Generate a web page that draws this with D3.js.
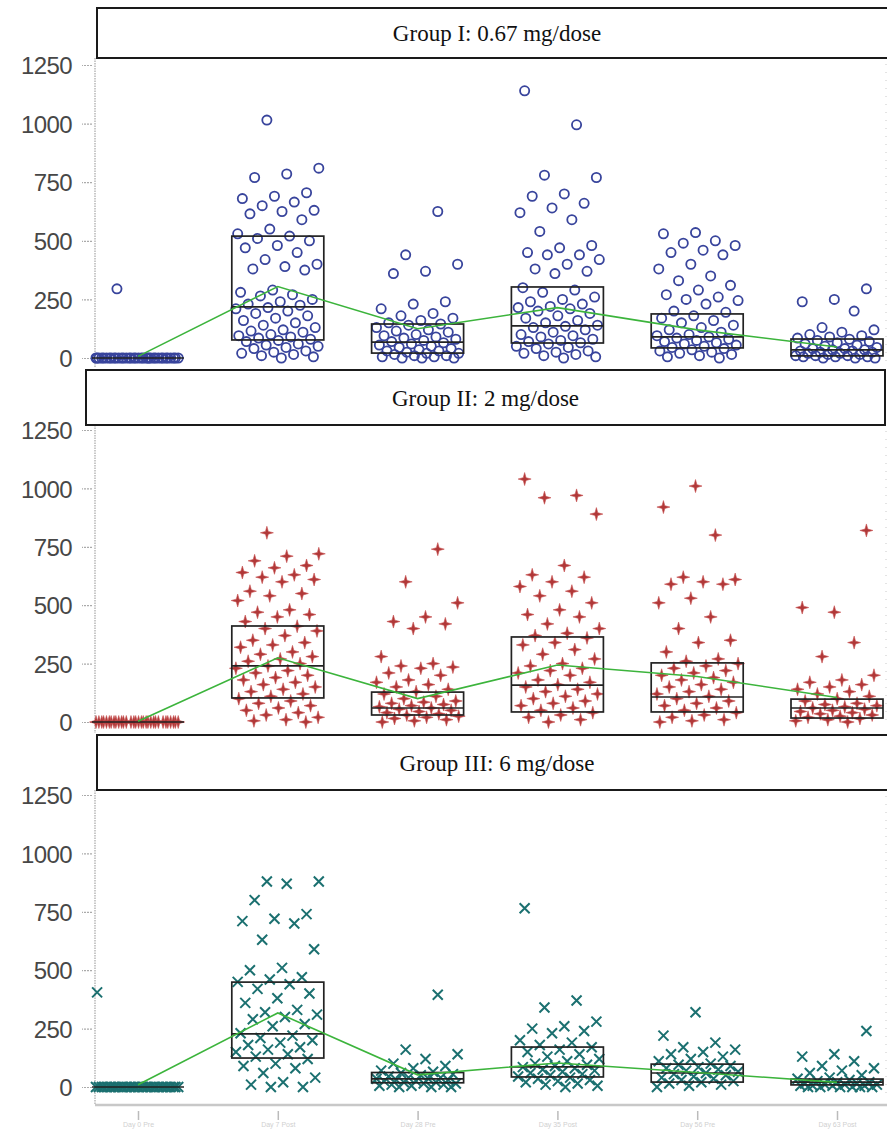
<!DOCTYPE html>
<html><head><meta charset="utf-8">
<script src="https://cdn.jsdelivr.net/npm/d3@7"></script>
<style>body{margin:0;background:#fff;overflow:hidden}svg{display:block}</style>
</head><body><svg id="c" width="887" height="1130"></svg>
<script>
const categories = ["Day 0 Pre", "Day 7 Post", "Day 28 Pre", "Day 35 Post", "Day 56 Pre", "Day 63 Post"];
const groupTitles = ["Group I: 0.67 mg/dose", "Group II: 2 mg/dose", "Group III: 6 mg/dose"];
const tickValues = [0, 250, 500, 750, 1000, 1250];

// Group I raw values per category
const g1Values = [
  [0,0,0,0,0,0,0,0,0,0,0,0,0,0,0,0,0,0,0,0,0,0,0,0,0,0,0,0,0,0,0,0,0,0,0,0,295],
  [1015,810,785,770,705,690,680,665,650,630,625,615,590,550,530,520,510,500,480,470,450,420,400,390,380,375,290,280,270,265,250,240,230,225,215,210,200,190,180,170,160,150,140,130,120,115,110,100,95,90,85,80,75,70,60,55,50,45,40,30,25,20,15,10,5,0],
  [625,440,400,370,360,240,230,210,190,180,170,160,150,145,140,130,120,115,110,100,95,90,85,80,75,70,65,60,55,50,45,40,35,30,30,25,20,20,15,10,10,5,5,0,0,0],
  [1140,995,780,770,700,690,660,640,620,590,540,480,470,450,440,440,420,400,380,370,360,300,290,280,260,250,240,230,220,215,210,200,190,180,170,160,150,140,135,130,120,110,100,95,90,80,75,70,65,60,50,45,40,30,25,20,15,10,5,0],
  [535,530,500,490,480,460,450,440,400,380,350,330,310,290,270,260,250,245,230,200,195,180,170,160,150,140,130,120,110,100,95,90,85,80,75,70,65,60,55,50,45,40,35,30,25,20,15,10,5,0],
  [295,250,240,200,130,120,110,100,95,90,85,80,75,70,65,60,55,50,45,40,40,35,35,30,30,25,25,20,20,15,15,10,10,10,5,5,5,0,0,0]
];
const g2Values = [
  [0,0,0,0,0,0,0,0,0,0,0,0,0,0,0,0,0,0,0,0,0,0,0,0,0,0,0,0,0,0,0,0],
  [810,720,710,690,670,660,640,630,620,610,600,560,550,540,520,480,470,460,450,430,410,400,390,370,350,340,330,320,300,290,280,270,260,250,240,230,220,210,200,190,180,170,160,150,140,130,120,110,100,90,80,70,60,50,40,30,20,10,5,0],
  [740,600,510,450,430,420,400,280,250,240,235,230,210,200,180,170,160,150,140,130,120,110,100,90,85,80,75,70,65,60,55,50,45,40,35,30,25,20,15,10,5,0],
  [1040,970,960,890,670,630,620,600,580,560,540,510,480,460,450,420,400,380,370,360,340,330,310,290,270,250,240,230,220,210,200,180,170,160,150,140,130,120,110,100,90,80,70,60,50,40,30,20,10,0],
  [1010,920,800,620,610,600,590,590,530,510,450,400,350,340,300,270,260,250,240,230,220,210,200,190,180,170,160,150,140,130,120,110,100,90,80,70,60,50,40,30,20,10,5,0],
  [820,470,490,340,280,200,180,170,160,150,140,130,120,110,100,90,80,75,70,65,60,55,50,45,40,35,30,25,20,15,10,5,0]
];
const g3Values = [
  [0,0,0,0,0,0,0,0,0,0,0,0,0,0,0,0,0,0,0,0,0,0,0,0,0,0,0,0,0,0,0,0,0,0,405],
  [880,880,870,800,740,720,710,700,630,590,510,500,470,460,450,440,420,400,380,360,330,320,310,300,290,270,260,230,220,210,200,190,180,170,160,150,140,130,120,100,90,80,60,40,20,10,0,0],
  [395,160,140,120,100,90,80,70,65,60,55,50,45,40,40,35,35,30,30,25,25,20,20,15,15,10,10,5,5,0,0,0],
  [765,370,340,280,260,250,240,230,200,190,180,170,160,150,140,130,120,110,100,95,90,85,80,75,70,65,60,55,50,45,40,35,30,25,20,15,10,5,0],
  [320,220,190,170,160,150,140,130,120,110,100,95,90,85,80,75,70,65,60,55,50,45,40,35,30,25,20,15,10,5,0],
  [240,140,130,110,90,80,70,60,50,40,35,30,25,20,20,15,15,10,10,10,5,5,5,5,0,0,0,0,0,0]
];

// box stats [q1, median, q3]
const g1Box = [[0,0,0],[77,218,520],[21,68,145],[64,137,303],[43,90,188],[9,35,81]];
const g2Box = [[0,0,0],[103,240,411],[30,60,128],[43,158,364],[43,107,253],[17,60,98]];
const g3Box = [[0,0,0],[124,227,449],[18,35,62],[43,86,171],[21,60,98],[9,21,34]];

// means (green line)
const g1Mean = [7, 305, 125, 215, 120, 47];
const g2Mean = [3, 275, 100, 244, 195, 105];
const g3Mean = [10, 317, 52, 103, 62, 20];

const svg = d3.select("#c");
const x = d3.scalePoint().domain(categories).range([138, 837]);

const panels = [
  {vals: g1Values, box: g1Box, mean: g1Mean, title: groupTitles[0], hdr: [97, 8, 800, 50], yr: [358, 65], top: 58, bot: 368, marker: "circle", color: "#38449c"},
  {vals: g2Values, box: g2Box, mean: g2Mean, title: groupTitles[1], hdr: [86, 370, 799, 55], yr: [722, 430], top: 425, bot: 733, marker: "star", color: "#b03838"},
  {vals: g3Values, box: g3Box, mean: g3Mean, title: groupTitles[2], hdr: [97, 735, 800, 55], yr: [1087, 795], top: 790, bot: 1105, marker: "x", color: "#1b7070"}
];

const starPath = "M0,-6.5L1.4,-1.4L6.5,0L1.4,1.4L0,6.5L-1.4,1.4L-6.5,0L-1.4,-1.4Z";
const xPath = "M-5,-5L5,5M-5,5L5,-5";

panels.forEach(p => {
  const y = d3.scaleLinear().domain([0, 1250]).range(p.yr);
  const g = svg.append("g");

  g.append("line").attr("x1", 95).attr("x2", 95).attr("y1", p.top).attr("y2", p.bot)
    .attr("stroke", "#b8b8b8").attr("stroke-width", 1.5).attr("stroke-dasharray", "1.5,1");
  g.append("line").attr("x1", 886).attr("x2", 886).attr("y1", p.top + 6).attr("y2", p.bot - 6)
    .attr("stroke", "#c8c8c8").attr("stroke-width", 1).attr("stroke-dasharray", "1,7");

  const ax = d3.axisLeft(y).tickValues(tickValues).tickFormat(d3.format("d")).tickSize(10).tickPadding(10);
  const axg = g.append("g").attr("transform", "translate(92,0)").call(ax);
  axg.select(".domain").remove();
  axg.selectAll(".tick line").attr("stroke", "#aaa").attr("stroke-width", 1.2).attr("stroke-dasharray", "2,1");
  axg.selectAll(".tick text").attr("fill", "#474747").attr("font-family", "Liberation Sans, Arial, sans-serif")
    .attr("font-size", 24).attr("letter-spacing", "-0.6px").attr("dy", "0.36em");

  p.vals.forEach((arr, ci) => {
    const cx = x(categories[ci]);
    arr.forEach((v, i) => {
      const jx = cx + (((i * 0.6180339 + ci * 0.37) % 1) - 0.5) * 84;
      const py = y(v);
      if (p.marker === "circle") {
        g.append("circle").attr("cx", jx).attr("cy", py).attr("r", 4.6)
          .attr("fill", "none").attr("stroke", p.color).attr("stroke-width", 1.8);
      } else if (p.marker === "star") {
        g.append("path").attr("d", starPath).attr("transform", `translate(${jx},${py})`)
          .attr("fill", p.color).attr("stroke", "#c85050").attr("stroke-width", 0.6);
      } else {
        g.append("path").attr("d", xPath).attr("transform", `translate(${jx},${py})`)
          .attr("fill", "none").attr("stroke", p.color).attr("stroke-width", 2);
      }
    });
  });

  p.box.forEach((b, ci) => {
    const cx = x(categories[ci]);
    const w = 92;
    g.append("rect").attr("x", cx - w / 2).attr("y", y(b[2])).attr("width", w)
      .attr("height", Math.max(0, y(b[0]) - y(b[2])))
      .attr("fill", "none").attr("stroke", "#222").attr("stroke-width", 1.7);
    g.append("line").attr("x1", cx - w / 2).attr("x2", cx + w / 2).attr("y1", y(b[1])).attr("y2", y(b[1]))
      .attr("stroke", "#222").attr("stroke-width", 1.7);
  });

  g.append("path").datum(p.mean)
    .attr("d", d3.line().x((d, i) => x(categories[i])).y(d => y(d)))
    .attr("fill", "none").attr("stroke", "#3cb43c").attr("stroke-width", 1.6);

  g.append("rect").attr("x", p.hdr[0]).attr("y", p.hdr[1]).attr("width", p.hdr[2]).attr("height", p.hdr[3])
    .attr("fill", "#fff").attr("stroke", "#1a1a1a").attr("stroke-width", 2);
  g.append("text").attr("x", p.hdr[0] + p.hdr[2] / 2).attr("y", p.hdr[1] + p.hdr[3] / 2)
    .attr("dy", "0.35em").attr("text-anchor", "middle")
    .attr("font-family", "Liberation Serif, Times New Roman, serif").attr("font-size", 23)
    .attr("fill", "#111").text(p.title);
});

// bottom x axis
svg.append("line").attr("x1", 95).attr("x2", 887).attr("y1", 1105).attr("y2", 1105)
  .attr("stroke", "#c8c8c8").attr("stroke-width", 2.5);
const xa = d3.axisBottom(x).tickSize(9).tickPadding(2);
const xag = svg.append("g").attr("transform", "translate(0,1111)").call(xa);
xag.select(".domain").remove();
xag.selectAll(".tick line").attr("stroke", "#bbb").attr("stroke-width", 1.5);
xag.selectAll(".tick text").attr("fill", "#d0d0d0").attr("font-family", "Liberation Sans, Arial, sans-serif")
  .attr("font-size", 7);
</script>
</body></html>
